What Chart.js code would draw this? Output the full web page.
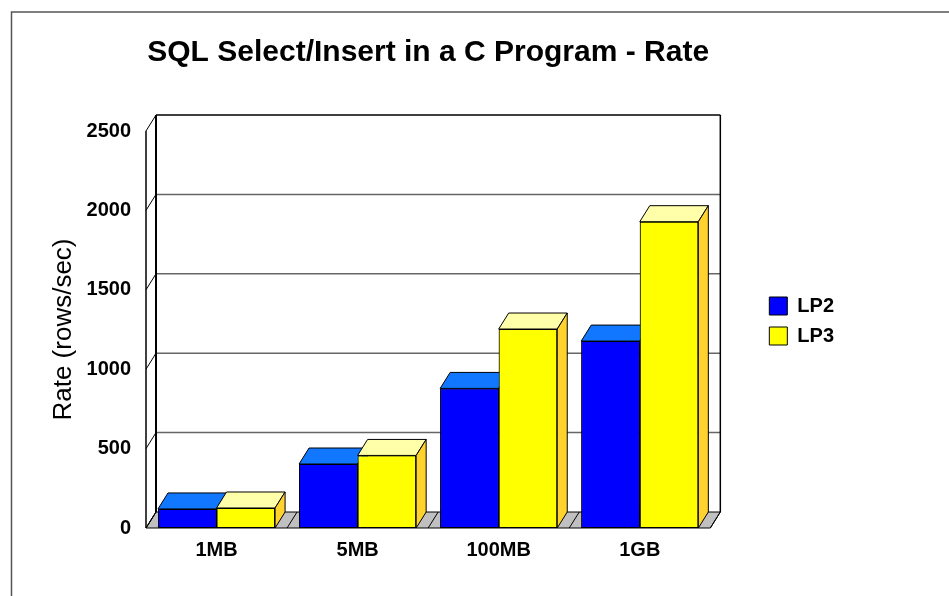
<!DOCTYPE html>
<html>
<head>
<meta charset="utf-8">
<script src="https://cdn.jsdelivr.net/npm/chart.js@4.4.1/dist/chart.umd.min.js"></script>
<style>
  html, body { margin: 0; padding: 0; background: #fff; }
  #wrap { width: 949px; height: 596px; }
</style>
</head>
<body>
<div id="wrap"><canvas id="chart"></canvas></div>
<script>
const categories = ["1MB", "5MB", "100MB", "1GB"]
const lp2Values = [120, 403, 879, 1177]
const lp3Values = [126, 457, 1253, 1929]
const yMax = 2500
const yStep = 500

// depth of the fake 3d box
const DX = 10
const DY = -16
const FONT = "'Liberation Sans', Arial, Helvetica, sans-serif"

function line(ctx, x1, y1, x2, y2) {
  ctx.beginPath()
  ctx.moveTo(x1, y1)
  ctx.lineTo(x2, y2)
  ctx.stroke()
}

function poly(ctx, pts, fill) {
  ctx.beginPath()
  ctx.moveTo(pts[0][0], pts[0][1])
  for (let i = 1; i < pts.length; i++) ctx.lineTo(pts[i][0], pts[i][1])
  ctx.closePath()
  ctx.fillStyle = fill
  ctx.fill()
  ctx.stroke()
}

const box3d = {
  id: "box3d",
  beforeDraw(chart) {
    const ctx = chart.ctx
    ctx.save()
    ctx.fillStyle = "#fff"
    ctx.fillRect(0, 0, chart.width, chart.height)
    // page frame
    ctx.strokeStyle = "#555"
    ctx.lineWidth = 1.5
    ctx.beginPath()
    ctx.moveTo(11.5, chart.height)
    ctx.lineTo(11.5, 12)
    ctx.lineTo(chart.width, 12)
    ctx.stroke()
    ctx.restore()
  },
  beforeDatasetsDraw(chart) {
    const {ctx, chartArea: a, scales: {y}} = chart
    const y0 = y.getPixelForValue(0)
    const yTop = y.getPixelForValue(y.max)
    ctx.save()
    ctx.lineWidth = 1
    ctx.strokeStyle = "#000"

    // floor
    poly(ctx, [[a.left, y0], [a.right, y0], [a.right + DX, y0 + DY], [a.left + DX, y0 + DY]], "#c0c0c0")
    const step = (a.right - a.left) / categories.length
    for (let i = 0; i <= categories.length; i++) {
      const fx = a.left + i * step
      line(ctx, fx, y0, fx + DX, y0 + DY)
    }

    // back wall grid + side wall ticks
    y.ticks.forEach(t => {
      const py = y.getPixelForValue(t.value)
      ctx.strokeStyle = "#000"
      ctx.lineWidth = 1
      line(ctx, a.left, py, a.left + DX, py + DY)
      if (t.value > 0) {
        ctx.strokeStyle = t.value === y.max ? "#000" : "#666"
        ctx.lineWidth = 1.5
        line(ctx, a.left + DX, py + DY, a.right + DX, py + DY)
      }
    })

    ctx.strokeStyle = "#000"
    ctx.lineWidth = 2
    line(ctx, a.left + DX, yTop + DY, a.left + DX, y0 + DY)
    ctx.lineWidth = 1.5
    line(ctx, a.right + DX, yTop + DY, a.right + DX, y0 + DY)
    line(ctx, a.left, yTop, a.left, y0)
    ctx.restore()
  },
  afterDatasetsDraw(chart) {
    // redraw bars series by series so every top and side face sits right
    const ctx = chart.ctx
    chart.data.datasets.forEach((ds, i) => {
      const meta = chart.getDatasetMeta(i)
      meta.data.forEach(bar => {
        bar.draw(ctx)
        const {x, y, base, width} = bar.getProps(["x", "y", "base", "width"], true)
        const x0 = x - width / 2
        const x1 = x + width / 2
        ctx.save()
        ctx.lineWidth = 1
        ctx.strokeStyle = "#000"
        poly(ctx, [[x0, y], [x1, y], [x1 + DX, y + DY], [x0 + DX, y + DY]], ds.topColor)
        poly(ctx, [[x1, y], [x1 + DX, y + DY], [x1 + DX, base + DY], [x1, base]], ds.sideColor)
        ctx.restore()
      })
    })
  }
}

const chart = new Chart("chart", {
  type: "bar",
  data: {
    labels: categories,
    datasets: [
      {
        label: "LP2",
        data: lp2Values,
        backgroundColor: "#0000ff",
        topColor: "#1177ff",
        sideColor: "#0000b0",
        borderColor: "#000",
        borderWidth: 1,
        borderSkipped: false
      },
      {
        label: "LP3",
        data: lp3Values,
        backgroundColor: "#ffff00",
        topColor: "#ffffaa",
        sideColor: "#ffd22e",
        borderColor: "#000",
        borderWidth: 1,
        borderSkipped: false
      }
    ]
  },
  options: {
    responsive: true,
    maintainAspectRatio: false,
    animation: false,
    layout: {padding: {right: 105}},
    datasets: {
      bar: {categoryPercentage: 0.83, barPercentage: 1}
    },
    plugins: {
      tooltip: {enabled: false},
      title: {
        display: true,
        text: "SQL Select/Insert in a C Program - Rate",
        fullSize: false,
        color: "#000",
        font: {family: FONT, size: 30, weight: "bold"},
        padding: {top: 35, bottom: 60}
      },
      legend: {
        position: "right",
        align: "start",
        title: {display: true, text: " ", font: {size: 10}, padding: {top: 274, bottom: 0}},
        labels: {
          boxWidth: 18,
          boxHeight: 18,
          padding: 10,
          color: "#000",
          font: {family: FONT, size: 20, weight: "bold"}
        }
      }
    },
    scales: {
      x: {
        grid: {display: false, drawTicks: false},
        border: {display: false},
        ticks: {color: "#000", padding: 10, font: {family: FONT, size: 20, weight: "bold"}},
        afterFit(s) { s.height = 68 }
      },
      y: {
        min: 0,
        max: yMax,
        grid: {display: false, drawTicks: false},
        border: {display: false},
        ticks: {
          stepSize: yStep,
          color: "#000",
          padding: 15,
          font: {family: FONT, size: 20, weight: "bold"},
          callback: v => String(v)
        },
        title: {
          display: true,
          text: "Rate (rows/sec)",
          color: "#000",
          font: {family: FONT, size: 26},
          padding: {top: 48, bottom: 0}
        },
        afterFit(s) { s.width = 146 }
      },
      yr: {
        position: "right",
        grid: {display: false},
        border: {display: false},
        ticks: {display: false},
        afterFit(s) { s.width = 49 }
      }
    }
  },
  plugins: [box3d]
})
</script>
</body>
</html>
